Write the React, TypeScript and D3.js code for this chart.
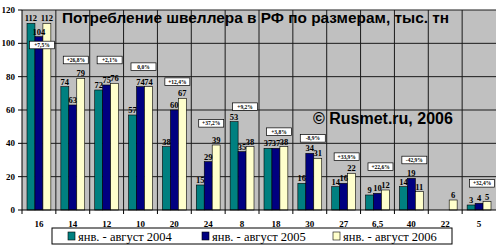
import { useEffect, useRef } from "react";
import * as d3 from "d3";

const sizes = ["16", "14", "12", "10", "20", "24", "8", "18", "30", "27", "6,5", "40", "22", "5"];
const y2004: (number | null)[] = [112, 74, 72, 57, 38, 15, 53, 37, 16, 14, 9, 14, null, 3];
const y2005: (number | null)[] = [104, 63, 75, 74, 60, 29, 35, 37, 34, 16, 10, 19, null, 4];
const y2006: (number | null)[] = [112, 79, 76, 74, 67, 39, 38, 38, 31, 22, 12, 11, 6, 5];
const growth = ["+7,5%", "+26,8%", "+2,1%", "0,0%", "+12,4%", "+37,2%", "+9,2%", "+3,8%", "-8,9%", "+33,9%", "+22,6%", "-42,9%", "", "+32,4%"];
const growthLevel = [99, 90, 90, 86, 77, 52, 62, 47, 43, 32, 26, 30, 0, 16];
const seriesNames = ["янв. - август 2004", "янв. - август 2005", "янв. - август 2006"];
const colors = ["#008080", "#000080", "#ffffcc"];
const yTicks = [0, 20, 40, 60, 80, 100, 120];

export default function App() {
  const svgRef = useRef<SVGSVGElement | null>(null);

  useEffect(() => {
    if (!svgRef.current) return;
    const width = 500;
    const height = 246;
    const margin = { top: 10, right: 4, bottom: 36, left: 22 };
    const w = width - margin.left - margin.right;
    const h = height - margin.top - margin.bottom;
    const serif = "'Liberation Serif', 'Times New Roman', serif";
    const sans = "'Liberation Sans', Arial, sans-serif";

    const svg = d3.select(svgRef.current);
    svg.selectAll("*").remove();
    svg.attr("width", width).attr("height", height);

    svg.append("rect").attr("width", width).attr("height", height).attr("fill", "#fff");

    const g = svg.append("g").attr("transform", `translate(${margin.left},${margin.top})`);

    const x = d3.scaleBand().domain(sizes).range([0, w]).paddingInner(0).paddingOuter(0);
    const inner = d3.scaleBand().domain(["0", "1", "2"]).range([5, x.bandwidth() - 5]).padding(0);
    const y = d3.scaleLinear().domain([0, 120]).range([h, 0]);

    g.append("rect").attr("width", w).attr("height", h).attr("fill", "#c0c0c0");

    // grid
    g.selectAll(".hg").data(yTicks.slice(1)).join("line")
      .attr("x1", 0).attr("x2", w)
      .attr("y1", d => y(d)).attr("y2", d => y(d))
      .attr("stroke", "#1a1a1a").attr("stroke-width", 1);
    g.selectAll(".vg").data(sizes.slice(1)).join("line")
      .attr("x1", d => x(d)!).attr("x2", d => x(d)!)
      .attr("y1", 0).attr("y2", h)
      .attr("stroke", "#1a1a1a").attr("stroke-width", 1);

    // bars
    const series = [y2004, y2005, y2006].map((vals, si) =>
      vals.map((v, i) => ({ v, c: sizes[i], si })).filter(d => d.v !== null) as { v: number; c: string; si: number }[]
    );
    series.forEach((data, si) => {
      g.selectAll(`.bar${si}`).data(data).join("rect")
        .attr("x", d => x(d.c)! + inner(String(si))!)
        .attr("y", d => y(d.v))
        .attr("width", inner.bandwidth())
        .attr("height", d => h - y(d.v))
        .attr("fill", colors[si])
        .attr("stroke", "#000").attr("stroke-width", 0.6);
    });
    series.forEach((data, si) => {
      g.selectAll(`.lbl${si}`).data(data).join("text")
        .attr("x", d => x(d.c)! + inner(String(si))! + inner.bandwidth() / 2)
        .attr("y", d => y(d.v) - 2)
        .attr("text-anchor", "middle")
        .attr("font-family", serif).attr("font-size", 8.5).attr("font-weight", 700)
        .attr("fill", "#000")
        .text(d => d.v);
    });

    // growth boxes
    const gb = growth.map((t, i) => ({ t, c: sizes[i], l: growthLevel[i] })).filter(d => d.t !== "");
    const boxes = g.selectAll(".gb").data(gb).join("g")
      .attr("transform", d => `translate(${x(d.c)! + x.bandwidth() / 2 + 3},${y(d.l)})`);
    boxes.append("rect")
      .attr("x", -12.5).attr("y", -3.8).attr("width", 25).attr("height", 7.6)
      .attr("fill", "#fff").attr("stroke", "#000").attr("stroke-width", 0.7);
    boxes.append("text")
      .attr("y", 2).attr("text-anchor", "middle")
      .attr("font-family", serif).attr("font-size", 5.5).attr("font-weight", 700)
      .text(d => d.t);

    // axes
    g.append("line").attr("x1", 0).attr("x2", w).attr("y1", h).attr("y2", h).attr("stroke", "#000");
    g.append("line").attr("x1", 0).attr("x2", 0).attr("y1", 0).attr("y2", h).attr("stroke", "#000");
    g.selectAll(".yt").data(yTicks).join("line")
      .attr("x1", -4).attr("x2", 0).attr("y1", d => y(d)).attr("y2", d => y(d)).attr("stroke", "#000");
    g.selectAll(".yl").data(yTicks).join("text")
      .attr("x", -7).attr("y", d => y(d) + 3)
      .attr("text-anchor", "end")
      .attr("font-family", serif).attr("font-size", 9).attr("font-weight", 700)
      .text(d => d);
    g.selectAll(".xt").data(sizes).join("line")
      .attr("x1", d => x(d)!).attr("x2", d => x(d)!)
      .attr("y1", h).attr("y2", h + 4).attr("stroke", "#000");
    g.selectAll(".xl").data(sizes).join("text")
      .attr("x", d => x(d)! + x.bandwidth() / 2).attr("y", h + 17)
      .attr("text-anchor", "middle")
      .attr("font-family", serif).attr("font-size", 9).attr("font-weight", 700)
      .text(d => d);

    // title and copyright
    svg.append("text")
      .attr("x", 62).attr("y", 23)
      .attr("font-family", sans).attr("font-size", 15.4).attr("font-weight", 700)
      .text("Потребление швеллера в РФ по размерам, тыс. тн");
    svg.append("text")
      .attr("x", 313).attr("y", 124)
      .attr("font-family", sans).attr("font-size", 16).attr("font-weight", 700)
      .text("© Rusmet.ru, 2006");

    // legend
    const lg = svg.append("g").attr("transform", "translate(52,228)");
    lg.append("rect").attr("width", 400).attr("height", 16)
      .attr("fill", "#fff").attr("stroke", "#000").attr("stroke-width", 1);
    const itemX = [16, 150, 281];
    seriesNames.forEach((name, i) => {
      lg.append("rect").attr("x", itemX[i]).attr("y", 4).attr("width", 7).attr("height", 8)
        .attr("fill", colors[i]).attr("stroke", "#000").attr("stroke-width", 0.6);
      lg.append("text").attr("x", itemX[i] + 10).attr("y", 12.5)
        .attr("font-family", serif).attr("font-size", 12.5)
        .text(name);
    });
  }, []);

  return <svg ref={svgRef} style={{ position: "absolute", left: 0, top: 0 }} />;
}
